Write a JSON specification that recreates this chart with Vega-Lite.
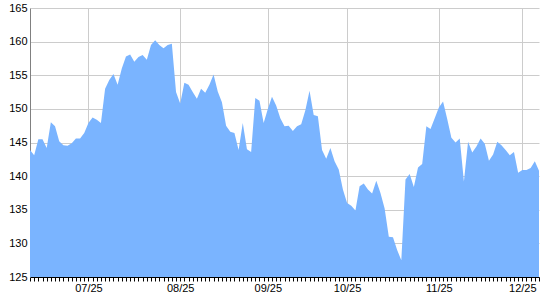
{
  "$schema": "https://vega.github.io/schema/vega-lite/v6.json",
  "width": 509,
  "height": 269,
  "autosize": {"type": "none"},
  "padding": {"left": 30, "top": 8, "right": 1, "bottom": 23},
  "background": "white",
  "config": {"view": {"stroke": null}, "font": "Liberation Sans"},
  "data": {"values": [
    {"date": "2025-06-10", "close": 143.9},
    {"date": "2025-06-11", "close": 143.1},
    {"date": "2025-06-12", "close": 145.5},
    {"date": "2025-06-13", "close": 145.5},
    {"date": "2025-06-16", "close": 144.2},
    {"date": "2025-06-17", "close": 148.0},
    {"date": "2025-06-18", "close": 147.4},
    {"date": "2025-06-20", "close": 145.2},
    {"date": "2025-06-23", "close": 144.6},
    {"date": "2025-06-24", "close": 144.5},
    {"date": "2025-06-25", "close": 144.9},
    {"date": "2025-06-26", "close": 145.6},
    {"date": "2025-06-27", "close": 145.6},
    {"date": "2025-06-30", "close": 146.4},
    {"date": "2025-07-01", "close": 147.9},
    {"date": "2025-07-02", "close": 148.7},
    {"date": "2025-07-03", "close": 148.4},
    {"date": "2025-07-07", "close": 147.9},
    {"date": "2025-07-08", "close": 153.0},
    {"date": "2025-07-09", "close": 154.3},
    {"date": "2025-07-10", "close": 155.2},
    {"date": "2025-07-11", "close": 153.6},
    {"date": "2025-07-14", "close": 156.0},
    {"date": "2025-07-15", "close": 157.8},
    {"date": "2025-07-16", "close": 158.1},
    {"date": "2025-07-17", "close": 157.0},
    {"date": "2025-07-18", "close": 157.7},
    {"date": "2025-07-21", "close": 158.0},
    {"date": "2025-07-22", "close": 157.3},
    {"date": "2025-07-23", "close": 159.5},
    {"date": "2025-07-24", "close": 160.2},
    {"date": "2025-07-25", "close": 159.5},
    {"date": "2025-07-28", "close": 159.0},
    {"date": "2025-07-29", "close": 159.5},
    {"date": "2025-07-30", "close": 159.7},
    {"date": "2025-07-31", "close": 152.5},
    {"date": "2025-08-01", "close": 150.8},
    {"date": "2025-08-04", "close": 153.9},
    {"date": "2025-08-05", "close": 153.6},
    {"date": "2025-08-06", "close": 152.5},
    {"date": "2025-08-07", "close": 151.5},
    {"date": "2025-08-08", "close": 153.0},
    {"date": "2025-08-11", "close": 152.4},
    {"date": "2025-08-12", "close": 153.6},
    {"date": "2025-08-13", "close": 155.1},
    {"date": "2025-08-14", "close": 152.6},
    {"date": "2025-08-15", "close": 151.0},
    {"date": "2025-08-18", "close": 147.5},
    {"date": "2025-08-19", "close": 146.6},
    {"date": "2025-08-20", "close": 146.4},
    {"date": "2025-08-21", "close": 143.9},
    {"date": "2025-08-22", "close": 147.9},
    {"date": "2025-08-25", "close": 144.0},
    {"date": "2025-08-26", "close": 143.6},
    {"date": "2025-08-27", "close": 151.6},
    {"date": "2025-08-28", "close": 151.2},
    {"date": "2025-08-29", "close": 147.9},
    {"date": "2025-09-02", "close": 150.0},
    {"date": "2025-09-03", "close": 151.8},
    {"date": "2025-09-04", "close": 150.5},
    {"date": "2025-09-05", "close": 148.6},
    {"date": "2025-09-08", "close": 147.4},
    {"date": "2025-09-09", "close": 147.5},
    {"date": "2025-09-10", "close": 146.7},
    {"date": "2025-09-11", "close": 147.4},
    {"date": "2025-09-15", "close": 147.7},
    {"date": "2025-09-16", "close": 149.8},
    {"date": "2025-09-17", "close": 152.7},
    {"date": "2025-09-18", "close": 149.1},
    {"date": "2025-09-19", "close": 148.9},
    {"date": "2025-09-22", "close": 143.9},
    {"date": "2025-09-23", "close": 142.6},
    {"date": "2025-09-24", "close": 144.2},
    {"date": "2025-09-25", "close": 142.2},
    {"date": "2025-09-29", "close": 141.0},
    {"date": "2025-09-30", "close": 138.0},
    {"date": "2025-10-01", "close": 136.0},
    {"date": "2025-10-02", "close": 135.6},
    {"date": "2025-10-03", "close": 134.9},
    {"date": "2025-10-06", "close": 138.5},
    {"date": "2025-10-07", "close": 138.9},
    {"date": "2025-10-08", "close": 138.0},
    {"date": "2025-10-09", "close": 137.4},
    {"date": "2025-10-10", "close": 139.3},
    {"date": "2025-10-14", "close": 137.5},
    {"date": "2025-10-15", "close": 135.2},
    {"date": "2025-10-16", "close": 131.0},
    {"date": "2025-10-17", "close": 130.9},
    {"date": "2025-10-20", "close": 129.0},
    {"date": "2025-10-21", "close": 127.5},
    {"date": "2025-10-22", "close": 139.5},
    {"date": "2025-10-23", "close": 140.3},
    {"date": "2025-10-24", "close": 138.4},
    {"date": "2025-10-27", "close": 141.3},
    {"date": "2025-10-28", "close": 141.8},
    {"date": "2025-10-29", "close": 147.4},
    {"date": "2025-10-30", "close": 147.0},
    {"date": "2025-10-31", "close": 148.6},
    {"date": "2025-11-03", "close": 150.2},
    {"date": "2025-11-04", "close": 151.1},
    {"date": "2025-11-05", "close": 148.5},
    {"date": "2025-11-06", "close": 145.7},
    {"date": "2025-11-07", "close": 145.0},
    {"date": "2025-11-10", "close": 145.6},
    {"date": "2025-11-11", "close": 139.2},
    {"date": "2025-11-12", "close": 145.1},
    {"date": "2025-11-13", "close": 143.5},
    {"date": "2025-11-14", "close": 144.4},
    {"date": "2025-11-17", "close": 145.6},
    {"date": "2025-11-18", "close": 144.8},
    {"date": "2025-11-19", "close": 142.3},
    {"date": "2025-11-20", "close": 143.2},
    {"date": "2025-11-21", "close": 145.1},
    {"date": "2025-11-24", "close": 144.6},
    {"date": "2025-11-25", "close": 143.9},
    {"date": "2025-11-26", "close": 143.1},
    {"date": "2025-11-27", "close": 143.6},
    {"date": "2025-11-28", "close": 140.5},
    {"date": "2025-12-01", "close": 140.9},
    {"date": "2025-12-02", "close": 140.9},
    {"date": "2025-12-03", "close": 141.2},
    {"date": "2025-12-04", "close": 142.2},
    {"date": "2025-12-05", "close": 140.8}
  ]},
  "mark": {"type": "area", "color": "#7ab4ff", "opacity": 1, "clip": true, "interpolate": "linear"},
  "encoding": {
    "x": {
      "field": "date",
      "type": "ordinal",
      "sort": null,
      "scale": {"type": "point", "padding": 0},
      "axis": {
        "orient": "bottom",
        "title": null,
        "labelAngle": 0,
        "labelOverlap": false,
        "labelFont": "Liberation Sans",
        "labelFontSize": 11,
        "labelColor": "#000000",
        "labelPadding": 1,
        "labelExpr": "indexof(['2025-07-01','2025-08-01','2025-09-02','2025-10-01','2025-11-03','2025-12-01'], datum.value) >= 0 ? substring(datum.value, 5, 7) + '/' + substring(datum.value, 2, 4) : ''",
        "ticks": true,
        "tickSize": 4,
        "tickColor": "#000000",
        "tickWidth": 1,
        "domain": true,
        "domainColor": "#000000",
        "grid": true,
        "gridColor": "#cccccc",
        "gridWidth": 1,
        "gridOpacity": {
          "condition": {"test": "indexof(['2025-07-01','2025-08-01','2025-09-02','2025-10-01','2025-11-03','2025-12-01'], datum.value) >= 0", "value": 1},
          "value": 0
        }
      }
    },
    "y": {
      "field": "close",
      "type": "quantitative",
      "scale": {"domain": [125, 165], "nice": false, "zero": false},
      "axis": {
        "title": null,
        "values": [125, 130, 135, 140, 145, 150, 155, 160, 165],
        "ticks": false,
        "labelPadding": 3,
        "labelFont": "Liberation Sans",
        "labelFontSize": 11,
        "labelColor": "#000000",
        "domainColor": "#808080",
        "grid": true,
        "gridColor": "#cccccc",
        "gridWidth": 1
      }
    }
  }
}
